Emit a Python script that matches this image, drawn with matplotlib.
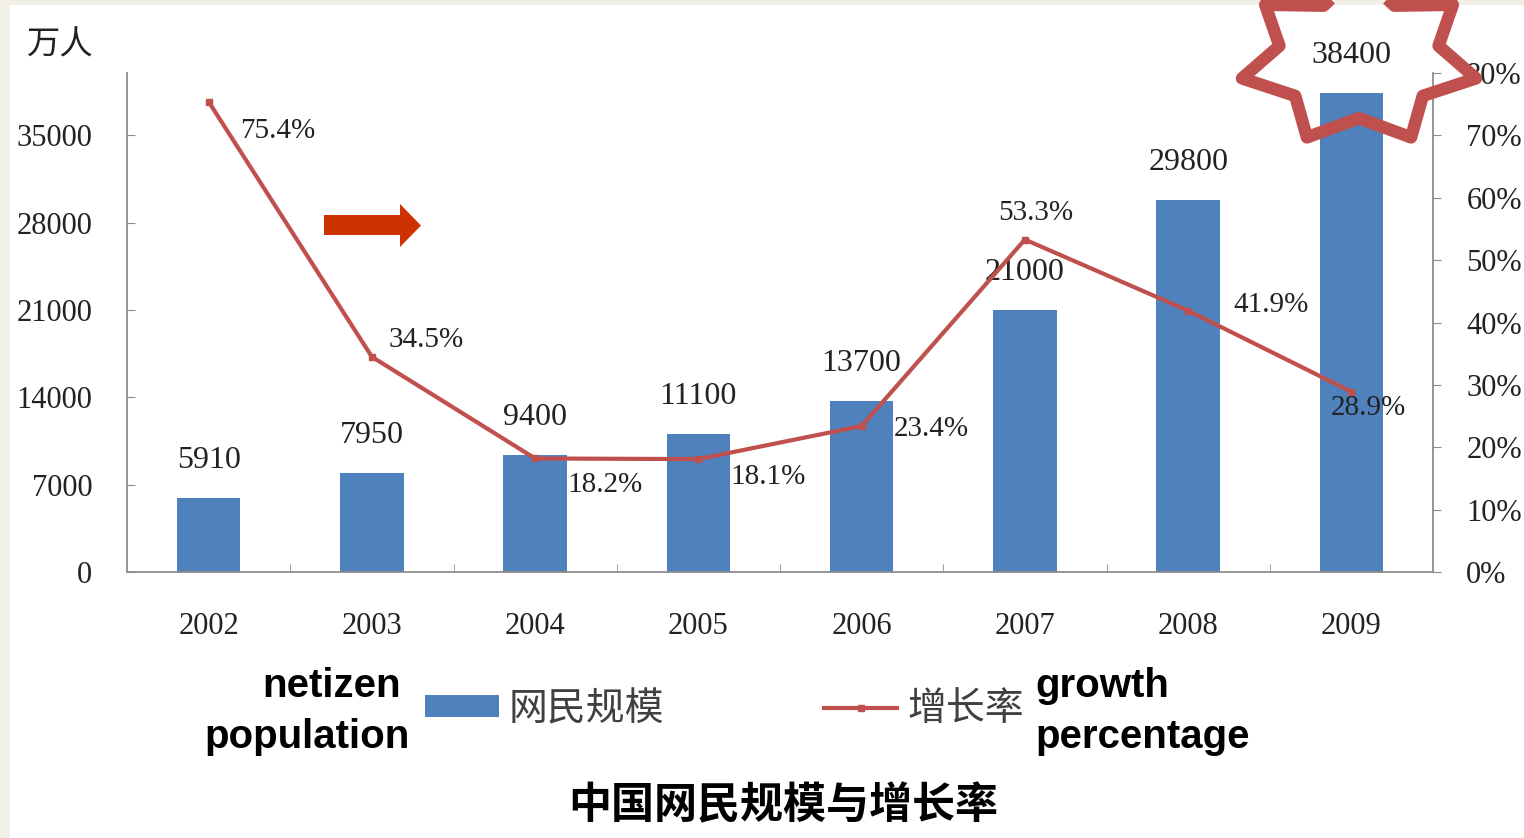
import numpy as np
import matplotlib.pyplot as plt
from matplotlib.patches import Rectangle, Polygon
from matplotlib.lines import Line2D

plt.rcParams['font.family'] = ['Liberation Serif', 'Noto Sans CJK SC']

years = ['2002', '2003', '2004', '2005', '2006', '2007', '2008', '2009']
netizens = [5910, 7950, 9400, 11100, 13700, 21000, 29800, 38400]
growth = [75.4, 34.5, 18.2, 18.1, 23.4, 53.3, 41.9, 28.9]
left_ticks = [0, 7000, 14000, 21000, 28000, 35000]
right_ticks = [0, 10, 20, 30, 40, 50, 60, 70, 80]

# label offsets for the growth labels (points)
growth_offsets = [(50, -21), (39, 12), (50, -19), (50, -13), (50, -2),
                  (8, 19), (60, 4), (12, -12)]

W, H = 1524, 838
BLUE = '#4f81bd'
RED = '#c0504d'
TXT = '#222222'
GRAY = '#8c8c8c'


def px(x, y):
    return (x / W, 1 - y / H)


fig = plt.figure(figsize=(W / 100, H / 100), dpi=100)
fig.patch.set_facecolor('#f2efe6')
fig.add_artist(Rectangle(px(10, 838), 1 - 10 / W, 1 - 5 / H, transform=fig.transFigure,
                         facecolor='white', edgecolor='none', zorder=-3))

ax = fig.add_axes([127 / W, 1 - 572 / H, (1433 - 127) / W, (572 - 73) / H])
ax.patch.set_alpha(0)
x = np.arange(len(years))
ax.bar(x, netizens, width=0.39, color=BLUE, zorder=2)
ax.set_xlim(-0.5, len(years) - 0.5)
ax.set_ylim(0, 40000)
ax.set_yticks(left_ticks)
ax.set_yticklabels([str(v) for v in left_ticks])
ax.set_xticks(x)
ax.set_xticklabels(years)
ax.set_xticks(x[:-1] + 0.5, minor=True)
ax.tick_params(axis='x', which='major', length=0, pad=29, labelsize=22, labelcolor=TXT)
ax.tick_params(axis='x', which='minor', direction='in', length=6, color=GRAY)
ax.tick_params(axis='y', direction='in', length=6, color=GRAY, pad=25,
               labelsize=22, labelcolor=TXT)
for s in ['top', 'right']:
    ax.spines[s].set_visible(False)
for s in ['left', 'bottom']:
    ax.spines[s].set_color(GRAY)
    ax.spines[s].set_linewidth(1.3)

for xi, v in zip(x, netizens):
    ax.annotate(str(v), (xi, v), xytext=(0, 27), textcoords='offset points',
                ha='center', va='center', fontsize=23, color=TXT, zorder=5)

ax2 = ax.twinx()
ax2.plot(x, growth, color=RED, lw=3, marker='s', markersize=4.5, zorder=3)
ax2.set_ylim(0, 80)
ax2.set_yticks(right_ticks)
ax2.set_yticklabels([f'{v}%' for v in right_ticks])
ax2.tick_params(axis='y', direction='out', length=6, color=GRAY, pad=18,
                labelsize=22, labelcolor=TXT)
for s in ['top', 'left', 'bottom']:
    ax2.spines[s].set_visible(False)
ax2.spines['right'].set_color(GRAY)
ax2.spines['right'].set_linewidth(1.3)

for xi, v, off in zip(x, growth, growth_offsets):
    ax2.annotate(f'{v}%', (xi, v), xytext=off, textcoords='offset points',
                 ha='center', va='center', fontsize=21, color=TXT, zorder=5)

fig.text(*px(60, 45), '万人', fontsize=24, color=TXT, ha='center', va='center',
         family=['Noto Sans CJK SC'])

# legend
handles = [Rectangle((0, 0), 1, 1, facecolor=BLUE, edgecolor='none'),
           Line2D([], [], color=RED, lw=3, marker='s', markersize=4.5)]
leg = fig.legend(handles, ['网民规模', '增长率'], loc='center left',
                 bbox_to_anchor=px(425, 709), ncol=2, frameon=False,
                 borderpad=0, borderaxespad=0, handlelength=1.9, handleheight=0.5,
                 handletextpad=0.25, columnspacing=4.1,
                 prop={'family': 'Noto Sans CJK SC', 'size': 28})
for t in leg.get_texts():
    t.set_color('#404040')

fig.text(*px(332, 686), 'netizen', fontsize=29, fontweight='bold',
         family='Liberation Sans', ha='center', va='center', color='black')
fig.text(*px(307, 737), 'population', fontsize=29, fontweight='bold',
         family='Liberation Sans', ha='center', va='center', color='black')
fig.text(*px(1035, 686), 'growth', fontsize=29, fontweight='bold',
         family='Liberation Sans', ha='left', va='center', color='black')
fig.text(*px(1035, 737), 'percentage', fontsize=29, fontweight='bold',
         family='Liberation Sans', ha='left', va='center', color='black')

fig.text(*px(783, 805), '中国网民规模与增长率', fontsize=31, fontweight='bold',
         family=['Noto Sans CJK SC'], ha='center', va='center', color='black')

# red arrow
arrow = [(324, 215), (400, 215), (400, 204), (421, 225.5), (400, 247),
         (400, 235), (324, 235)]
fig.add_artist(Polygon([px(a, b) for a, b in arrow], closed=True,
                       transform=fig.transFigure, facecolor='#cc3300',
                       edgecolor='none', zorder=6))

# seven-pointed star around the last label
cx, cy, rx, ry, ratio = 1359, 59, 120, 87, 0.68
ang = np.pi / 2 - np.arange(14) * np.pi / 7
rad = np.where(np.arange(14) % 2 == 0, 1.0, ratio)
star = [px(cx + r * rx * np.cos(a), cy - r * ry * np.sin(a)) for a, r in zip(ang, rad)]
fig.add_artist(Polygon(star, closed=True, transform=fig.transFigure, fill=False,
                       edgecolor=RED, lw=9, joinstyle='round', zorder=7))

fig.savefig('out.png', dpi=100)
